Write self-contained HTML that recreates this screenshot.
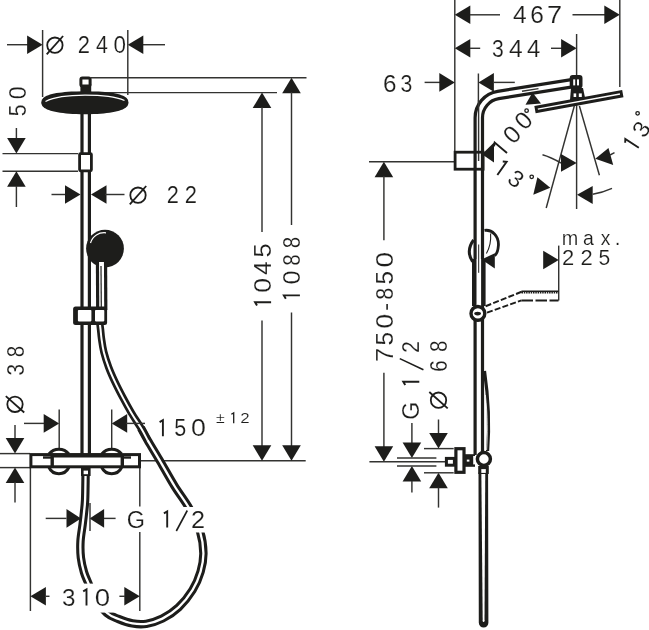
<!DOCTYPE html>
<html><head><meta charset="utf-8"><title>Dimension drawing</title>
<style>
html,body{margin:0;padding:0;background:#fff;}
svg{display:block;will-change:transform;}
text{font-family:"Liberation Sans",sans-serif;fill:#1d1d1b;}
</style></head>
<body>
<svg width="649" height="630" viewBox="0 0 649 630">
<rect width="649" height="630" fill="#fff"/>
<line x1="141" y1="460.8" x2="305.7" y2="460.8" stroke="#333331" stroke-width="1.45" />
<path d="M 141.0,428.1 C 142.1,430.1 144.4,434.6 147.5,440.0 C 150.6,445.4 155.3,452.9 159.8,460.6 C 164.3,468.3 169.5,477.9 174.5,486.0 C 179.5,494.1 185.3,501.3 189.6,509.0 C 193.9,516.7 197.9,524.6 200.2,532.0 C 202.5,539.4 203.3,546.5 203.4,553.1 C 203.5,559.7 202.4,565.4 200.6,571.6 C 198.8,577.8 196.2,584.1 192.5,590.1 C 188.8,596.1 183.6,602.6 178.6,607.4 C 173.6,612.1 167.8,615.9 162.4,618.6 C 157.0,621.3 151.3,623.0 146.3,623.8 C 141.3,624.6 137.0,624.2 132.4,623.4 C 127.8,622.6 122.7,620.7 118.5,619.0 C 114.3,617.3 110.9,616.5 107.0,613.0 C 103.1,609.5 98.2,603.1 95.0,598.0 C 91.8,592.9 89.9,586.8 88.1,582.5 C 86.3,578.2 85.2,576.3 84.0,572.2 C 82.8,568.1 81.5,562.9 80.9,557.7 C 80.3,552.5 80.2,546.7 80.5,541.2 C 80.8,535.7 82.0,529.5 82.6,524.7 C 83.2,519.9 83.6,516.5 84.0,512.4 C 84.4,508.3 84.8,506.4 85.1,500.0 C 85.4,493.6 85.5,478.3 85.6,474.0" fill="none" stroke="#1d1d1b" stroke-width="8.4" stroke-linecap="butt" stroke-linejoin="round" />
<path d="M 141.0,428.1 C 142.1,430.1 144.4,434.6 147.5,440.0 C 150.6,445.4 155.3,452.9 159.8,460.6 C 164.3,468.3 169.5,477.9 174.5,486.0 C 179.5,494.1 185.3,501.3 189.6,509.0 C 193.9,516.7 197.9,524.6 200.2,532.0 C 202.5,539.4 203.3,546.5 203.4,553.1 C 203.5,559.7 202.4,565.4 200.6,571.6 C 198.8,577.8 196.2,584.1 192.5,590.1 C 188.8,596.1 183.6,602.6 178.6,607.4 C 173.6,612.1 167.8,615.9 162.4,618.6 C 157.0,621.3 151.3,623.0 146.3,623.8 C 141.3,624.6 137.0,624.2 132.4,623.4 C 127.8,622.6 122.7,620.7 118.5,619.0 C 114.3,617.3 110.9,616.5 107.0,613.0 C 103.1,609.5 98.2,603.1 95.0,598.0 C 91.8,592.9 89.9,586.8 88.1,582.5 C 86.3,578.2 85.2,576.3 84.0,572.2 C 82.8,568.1 81.5,562.9 80.9,557.7 C 80.3,552.5 80.2,546.7 80.5,541.2 C 80.8,535.7 82.0,529.5 82.6,524.7 C 83.2,519.9 83.6,516.5 84.0,512.4 C 84.4,508.3 84.8,506.4 85.1,500.0 C 85.4,493.6 85.5,478.3 85.6,474.0" fill="none" stroke="#fff" stroke-width="2.3" stroke-linecap="butt" stroke-linejoin="round" />
<path d="M 99.6,322.0 C 99.8,323.3 100.3,327.2 100.6,330.0 C 100.9,332.8 101.0,335.0 101.5,338.6 C 102.0,342.2 102.6,347.1 103.8,351.9 C 105.0,356.6 106.7,362.0 108.6,367.1 C 110.5,372.2 112.8,377.3 115.2,382.4 C 117.6,387.5 120.2,392.5 122.9,397.6 C 125.6,402.7 128.4,407.8 131.4,412.9 C 134.4,418.0 138.3,423.6 141.0,428.1 C 143.7,432.6 146.4,438.0 147.5,440.0" fill="none" stroke="#1d1d1b" stroke-width="7.4" stroke-linecap="butt" stroke-linejoin="round" />
<path d="M 99.6,322.0 C 99.8,323.3 100.3,327.2 100.6,330.0 C 100.9,332.8 101.0,335.0 101.5,338.6 C 102.0,342.2 102.6,347.1 103.8,351.9 C 105.0,356.6 106.7,362.0 108.6,367.1 C 110.5,372.2 112.8,377.3 115.2,382.4 C 117.6,387.5 120.2,392.5 122.9,397.6 C 125.6,402.7 128.4,407.8 131.4,412.9 C 134.4,418.0 138.3,423.6 141.0,428.1 C 143.7,432.6 146.4,438.0 147.5,440.0" fill="none" stroke="#fff" stroke-width="2.0" stroke-linecap="butt" stroke-linejoin="round" />
<rect x="56" y="583.6" width="62" height="29" fill="#fff"/>
<rect x="120" y="507" width="90" height="25.5" fill="#fff"/>
<line x1="7" y1="44.7" x2="28" y2="44.7" stroke="#333331" stroke-width="1.45" />
<polygon points="42.6,44.7 27.1,35.4 27.1,54.0" fill="#1d1d1b"/>
<line x1="143" y1="44.7" x2="165" y2="44.7" stroke="#333331" stroke-width="1.45" />
<polygon points="127.8,44.7 143.3,35.4 143.3,54.0" fill="#1d1d1b"/>
<line x1="42.6" y1="30" x2="42.6" y2="97" stroke="#333331" stroke-width="1.45" />
<line x1="127.8" y1="30" x2="127.8" y2="95" stroke="#333331" stroke-width="1.45" />
<g transform="translate(54.9,45.2) rotate(0)"><circle r="7.7" fill="none" stroke="#1d1d1b" stroke-width="1.8"/><line x1="-8.2" y1="9.2" x2="8.2" y2="-9.2" stroke="#1d1d1b" stroke-width="1.8"/></g>
<text transform="translate(83.90,53.30) rotate(0) scale(0.934,1)" x="-6.53" y="0" font-size="23.5" stroke="#fff" stroke-width="0.15">2</text>
<text transform="translate(102.00,53.30) rotate(0) scale(0.912,1)" x="-6.46" y="0" font-size="23.5" stroke="#fff" stroke-width="0.15">4</text>
<text transform="translate(119.75,53.30) rotate(0) scale(0.952,1)" x="-6.53" y="0" font-size="23.5" stroke="#fff" stroke-width="0.15">0</text>
<line x1="91" y1="77.7" x2="306.5" y2="77.7" stroke="#333331" stroke-width="1.45" />
<line x1="96" y1="92.6" x2="277" y2="92.6" stroke="#333331" stroke-width="1.45" />
<polygon points="262.0,92.6 252.7,108.1 271.3,108.1" fill="#1d1d1b"/>
<polygon points="291.5,77.7 282.2,93.2 300.8,93.2" fill="#1d1d1b"/>
<line x1="262" y1="107" x2="262" y2="232" stroke="#333331" stroke-width="1.45" />
<line x1="262" y1="320.5" x2="262" y2="446" stroke="#333331" stroke-width="1.45" />
<line x1="291.5" y1="92" x2="291.5" y2="225" stroke="#333331" stroke-width="1.45" />
<line x1="291.5" y1="312.5" x2="291.5" y2="446" stroke="#333331" stroke-width="1.45" />
<polygon points="262.0,460.8 252.7,445.3 271.3,445.3" fill="#1d1d1b"/>
<polygon points="291.5,460.8 282.2,445.3 300.8,445.3" fill="#1d1d1b"/>
<text transform="translate(271.10,250.60) rotate(-90) scale(1.077,1)" x="-6.51" y="0" font-size="23.5" stroke="#fff" stroke-width="0.15">5</text>
<text transform="translate(271.10,268.10) rotate(-90) scale(1.013,1)" x="-6.46" y="0" font-size="23.5" stroke="#fff" stroke-width="0.15">4</text>
<text transform="translate(271.10,285.25) rotate(-90) scale(1.131,1)" x="-6.53" y="0" font-size="23.5" stroke="#fff" stroke-width="0.15">0</text>
<path transform="translate(271.10,302.30) rotate(-90)" d="M -3.3,-14.07 L 0,-16.05 L 0,0" fill="none" stroke="#1d1d1b" stroke-width="1.9" stroke-linejoin="miter"/>
<text transform="translate(299.90,242.45) rotate(-90) scale(0.880,1)" x="-6.53" y="0" font-size="23.5" stroke="#fff" stroke-width="0.15">8</text>
<text transform="translate(299.90,260.05) rotate(-90) scale(0.880,1)" x="-6.53" y="0" font-size="23.5" stroke="#fff" stroke-width="0.15">8</text>
<text transform="translate(299.90,277.55) rotate(-90) scale(1.077,1)" x="-6.53" y="0" font-size="23.5" stroke="#fff" stroke-width="0.15">0</text>
<path transform="translate(299.90,295.40) rotate(-90)" d="M -3.3,-14.07 L 0,-16.05 L 0,0" fill="none" stroke="#1d1d1b" stroke-width="1.9" stroke-linejoin="miter"/>
<line x1="16.4" y1="128" x2="16.4" y2="139" stroke="#333331" stroke-width="1.45" />
<polygon points="16.4,153.6 7.1,138.1 25.7,138.1" fill="#1d1d1b"/>
<line x1="2.5" y1="153.6" x2="78" y2="153.6" stroke="#333331" stroke-width="1.45" />
<line x1="2.5" y1="171.2" x2="78" y2="171.2" stroke="#333331" stroke-width="1.45" />
<polygon points="16.4,171.2 7.1,186.7 25.7,186.7" fill="#1d1d1b"/>
<line x1="16.4" y1="186" x2="16.4" y2="207" stroke="#333331" stroke-width="1.45" />
<text transform="translate(25.70,92.70) rotate(-90) scale(0.997,1)" x="-6.53" y="0" font-size="23.5" stroke="#fff" stroke-width="0.15">0</text>
<text transform="translate(25.70,110.45) rotate(-90) scale(0.906,1)" x="-6.51" y="0" font-size="23.5" stroke="#fff" stroke-width="0.15">5</text>
<line x1="51.5" y1="194.5" x2="66" y2="194.5" stroke="#333331" stroke-width="1.45" />
<polygon points="80.5,194.5 65.0,185.2 65.0,203.8" fill="#1d1d1b"/>
<polygon points="91.0,194.5 106.5,185.2 106.5,203.8" fill="#1d1d1b"/>
<line x1="105" y1="194.5" x2="124.5" y2="194.5" stroke="#333331" stroke-width="1.45" />
<g transform="translate(138,195.2) rotate(0)"><circle r="7.7" fill="none" stroke="#1d1d1b" stroke-width="1.8"/><line x1="-8.2" y1="9.2" x2="8.2" y2="-9.2" stroke="#1d1d1b" stroke-width="1.8"/></g>
<text transform="translate(172.85,203.20) rotate(0) scale(0.925,1)" x="-6.53" y="0" font-size="23.5" stroke="#fff" stroke-width="0.15">2</text>
<text transform="translate(190.90,203.20) rotate(0) scale(0.934,1)" x="-6.53" y="0" font-size="23.5" stroke="#fff" stroke-width="0.15">2</text>
<line x1="15" y1="425" x2="15" y2="440" stroke="#333331" stroke-width="1.45" />
<polygon points="15.0,453.6 5.7,438.1 24.3,438.1" fill="#1d1d1b"/>
<line x1="0" y1="453.6" x2="30" y2="453.6" stroke="#333331" stroke-width="1.45" />
<line x1="0" y1="467.6" x2="30" y2="467.6" stroke="#333331" stroke-width="1.45" />
<polygon points="15.0,467.6 5.7,483.1 24.3,483.1" fill="#1d1d1b"/>
<line x1="15" y1="482" x2="15" y2="502.5" stroke="#333331" stroke-width="1.45" />
<g transform="translate(15,404.3) rotate(-90)"><circle r="7.7" fill="none" stroke="#1d1d1b" stroke-width="1.8"/><line x1="-8.2" y1="9.2" x2="8.2" y2="-9.2" stroke="#1d1d1b" stroke-width="1.8"/></g>
<text transform="translate(23.60,351.50) rotate(-90) scale(0.880,1)" x="-6.53" y="0" font-size="23.5" stroke="#fff" stroke-width="0.15">8</text>
<text transform="translate(23.60,369.80) rotate(-90) scale(0.880,1)" x="-6.47" y="0" font-size="23.5" stroke="#fff" stroke-width="0.15">3</text>
<line x1="24" y1="423.4" x2="44" y2="423.4" stroke="#333331" stroke-width="1.45" />
<polygon points="59.2,423.4 43.7,414.1 43.7,432.7" fill="#1d1d1b"/>
<polygon points="111.7,423.4 127.2,414.1 127.2,432.7" fill="#1d1d1b"/>
<line x1="126" y1="423.4" x2="145" y2="423.4" stroke="#333331" stroke-width="1.45" />
<line x1="59.2" y1="409.5" x2="59.2" y2="452" stroke="#333331" stroke-width="1.45" />
<line x1="111.7" y1="409.5" x2="111.7" y2="452" stroke="#333331" stroke-width="1.45" />
<path transform="translate(162.90,436.20) rotate(0)" d="M -3.3,-14.07 L 0,-16.05 L 0,0" fill="none" stroke="#1d1d1b" stroke-width="1.9" stroke-linejoin="miter"/>
<text transform="translate(180.10,436.20) rotate(0) scale(0.915,1)" x="-6.51" y="0" font-size="23.5" stroke="#fff" stroke-width="0.15">5</text>
<text transform="translate(198.30,436.20) rotate(0) scale(1.139,1)" x="-6.53" y="0" font-size="23.5" stroke="#fff" stroke-width="0.15">0</text>
<text transform="translate(220.35,423.30) rotate(0) scale(1.023,1)" x="-4.26" y="0" font-size="15.5" stroke="#fff" stroke-width="0.15">±</text>
<text transform="translate(244.95,423.30) rotate(0) scale(1.090,1)" x="-4.31" y="0" font-size="15.5" stroke="#fff" stroke-width="0.15">2</text>
<path transform="translate(233.70,423.30) rotate(0)" d="M -2.4,-9.07 L 0,-10.40 L 0,0" fill="none" stroke="#1d1d1b" stroke-width="1.3" stroke-linejoin="miter"/>
<line x1="45.7" y1="518.4" x2="66.5" y2="518.4" stroke="#333331" stroke-width="1.45" />
<polygon points="81.0,518.4 66.5,509.1 66.5,527.7" fill="#1d1d1b"/>
<polygon points="89.6,518.4 104.1,509.1 104.1,527.7" fill="#1d1d1b"/>
<line x1="104" y1="518.4" x2="115.6" y2="518.4" stroke="#333331" stroke-width="1.45" />
<line x1="90" y1="503" x2="90" y2="531" stroke="#333331" stroke-width="1.45" />
<text transform="translate(135.55,527.50) rotate(0) scale(0.997,1)" x="-8.85" y="0" font-size="23.5" stroke="#fff" stroke-width="0.15">G</text>
<path transform="translate(167.20,527.50) rotate(0)" d="M -3.3,-14.07 L 0,-16.05 L 0,0" fill="none" stroke="#1d1d1b" stroke-width="1.9" stroke-linejoin="miter"/>
<text transform="translate(198.05,527.50) rotate(0) scale(1.074,1)" x="-6.53" y="0" font-size="23.5" stroke="#fff" stroke-width="0.15">2</text>
<line x1="176.3" y1="531" x2="187.3" y2="510.5" stroke="#1d1d1b" stroke-width="1.6" />
<line x1="30.4" y1="468" x2="30.4" y2="611" stroke="#333331" stroke-width="1.45" />
<line x1="139.8" y1="468" x2="139.8" y2="506.5" stroke="#333331" stroke-width="1.45" />
<line x1="139.8" y1="532" x2="139.8" y2="611" stroke="#333331" stroke-width="1.45" />
<polygon points="30.4,596.3 45.9,587.0 45.9,605.6" fill="#1d1d1b"/>
<line x1="46" y1="596.3" x2="49.5" y2="596.3" stroke="#333331" stroke-width="1.45" />
<polygon points="139.8,596.3 124.3,587.0 124.3,605.6" fill="#1d1d1b"/>
<line x1="119.4" y1="596.3" x2="125" y2="596.3" stroke="#333331" stroke-width="1.45" />
<text transform="translate(68.65,605.50) rotate(0) scale(1.032,1)" x="-6.47" y="0" font-size="23.5" stroke="#fff" stroke-width="0.15">3</text>
<path transform="translate(86.50,605.50) rotate(0)" d="M -3.3,-14.07 L 0,-16.05 L 0,0" fill="none" stroke="#1d1d1b" stroke-width="1.9" stroke-linejoin="miter"/>
<text transform="translate(102.30,605.50) rotate(0) scale(1.175,1)" x="-6.53" y="0" font-size="23.5" stroke="#fff" stroke-width="0.15">0</text>
<path d="M 85.7,108 L 85.7,455" fill="none" stroke="#1d1d1b" stroke-width="10.6" stroke-linecap="butt" stroke-linejoin="round" />
<path d="M 85.7,108 L 85.7,455" fill="none" stroke="#fff" stroke-width="4.2" stroke-linecap="butt" stroke-linejoin="round" />
<rect x="79.6" y="153.6" width="11.8" height="17.2" rx="1" fill="#fff" stroke="#1d1d1b" stroke-width="2.8"/>
<polygon points="128.3,102.3 128.2,103.4 127.8,104.3 127.2,105.2 126.4,106.0 125.3,106.9 124.0,107.6 122.4,108.3 120.7,109.0 118.7,109.7 116.6,110.3 114.2,110.8 111.7,111.3 109.0,111.7 106.1,112.1 103.0,112.4 99.8,112.7 96.5,112.9 92.9,113.1 89.2,113.2 84.9,113.2 80.6,113.2 76.9,113.1 73.3,112.9 70.0,112.7 66.8,112.4 63.7,112.1 60.8,111.7 58.1,111.3 55.6,110.8 53.2,110.3 51.1,109.7 49.1,109.0 47.4,108.3 45.8,107.6 44.5,106.9 43.4,106.0 42.6,105.2 42.0,104.3 41.6,103.4 41.5,102.3 41.6,100.9 41.9,99.8 42.5,98.9 43.2,98.0 44.2,97.2 45.3,96.5 46.7,95.8 48.3,95.2 50.0,94.6 52.0,94.0 54.2,93.5 56.5,93.1 59.1,92.7 61.8,92.4 64.8,92.1 67.9,91.8 71.3,91.6 75.1,91.5 79.2,91.4 84.9,91.4 90.6,91.4 94.7,91.5 98.5,91.6 101.9,91.8 105.0,92.1 108.0,92.4 110.7,92.7 113.3,93.1 115.6,93.5 117.8,94.0 119.8,94.6 121.5,95.2 123.1,95.8 124.5,96.5 125.6,97.2 126.6,98.0 127.3,98.9 127.9,99.8 128.2,100.9" fill="#1d1d1b"/>
<polygon points="128.3,103.0 128.2,104.2 127.8,105.2 127.3,106.2 126.4,107.0 125.4,107.9 124.2,108.6 122.7,109.4 121.0,110.1 119.1,110.7 117.0,111.3 114.7,111.8 112.2,112.3 109.6,112.8 106.7,113.1 103.7,113.5 100.5,113.7 97.1,113.9 93.5,114.1 89.6,114.2 84.9,114.2 80.2,114.2 76.3,114.1 72.7,113.9 69.3,113.7 66.1,113.5 63.1,113.1 60.2,112.8 57.6,112.3 55.1,111.8 52.8,111.3 50.7,110.7 48.8,110.1 47.1,109.4 45.6,108.6 44.4,107.9 43.4,107.0 42.5,106.2 42.0,105.2 41.6,104.2 41.5,103.0 41.6,101.9 42.0,100.9 42.6,100.0 43.4,99.1 44.5,98.3 45.8,97.5 47.4,96.8 49.1,96.1 51.1,95.4 53.2,94.8 55.6,94.3 58.1,93.8 60.8,93.3 63.7,92.9 66.8,92.6 70.0,92.3 73.3,92.1 76.9,91.9 80.6,91.8 84.9,91.8 89.2,91.8 92.9,91.9 96.5,92.1 99.8,92.3 103.0,92.6 106.1,92.9 109.0,93.3 111.7,93.8 114.2,94.3 116.6,94.8 118.7,95.4 120.7,96.1 122.4,96.8 124.0,97.5 125.3,98.3 126.4,99.1 127.2,100.0 127.8,100.9 128.2,101.9" fill="#1d1d1b"/>
<path d="M 45.5,101.5 C 55,96.8 70,95.2 85,95.2 C 100,95.2 115,96.5 124.5,100.5" fill="none" stroke="#fff" stroke-width="1.3" stroke-linecap="butt" stroke-linejoin="round" />
<rect x="80.4" y="84" width="10.8" height="10" fill="#1d1d1b"/>
<rect x="80.9" y="78" width="9.2" height="8" rx="1.5" fill="#fff" stroke="#1d1d1b" stroke-width="3"/>
<circle cx="105" cy="248.6" r="18.9" fill="#1d1d1b"/>
<path d="M 90.5,243 C 92.5,236 99,232 106,232.8" fill="none" stroke="#fff" stroke-width="1.2" stroke-linecap="butt" stroke-linejoin="round" />
<path d="M 101.5,262 L 101.75,310" fill="none" stroke="#1d1d1b" stroke-width="11.3" stroke-linecap="butt" stroke-linejoin="round" />
<path d="M 101.5,262 L 101.75,310" fill="none" stroke="#fff" stroke-width="4.9" stroke-linecap="butt" stroke-linejoin="round" />
<line x1="101.0" y1="266" x2="101.3" y2="308" stroke="#1d1d1b" stroke-width="1.2" />
<rect x="73.1" y="306.4" width="34" height="18.6" rx="2.5" fill="#1d1d1b" stroke="none" stroke-width="0"/>
<rect x="77.9" y="310" width="13.5" height="11.4" rx="0.8" fill="#fff"/>
<rect x="95" y="310" width="9.3" height="11.4" rx="0.8" fill="#fff"/>
<path d="M 49.0,454 A 12.5 12.5 0 0 1 68.8,454" fill="#fff" stroke="#1d1d1b" stroke-width="3" stroke-linecap="butt" stroke-linejoin="round" />
<path d="M 49.0,467.5 A 11 11 0 0 0 68.8,467.5" fill="#fff" stroke="#1d1d1b" stroke-width="3" stroke-linecap="butt" stroke-linejoin="round" />
<path d="M 101.8,454 A 12.5 12.5 0 0 1 121.60000000000001,454" fill="#fff" stroke="#1d1d1b" stroke-width="3" stroke-linecap="butt" stroke-linejoin="round" />
<path d="M 101.8,467.5 A 11 11 0 0 0 121.60000000000001,467.5" fill="#fff" stroke="#1d1d1b" stroke-width="3" stroke-linecap="butt" stroke-linejoin="round" />
<rect x="30.9" y="454.6" width="108.6" height="12.2" rx="0" fill="#fff" stroke="#1d1d1b" stroke-width="3"/>
<line x1="52.2" y1="454.6" x2="52.2" y2="467" stroke="#1d1d1b" stroke-width="3.4" />
<line x1="122.3" y1="454.6" x2="122.3" y2="467" stroke="#1d1d1b" stroke-width="3.4" />
<line x1="43" y1="457.5" x2="52" y2="457.5" stroke="#1d1d1b" stroke-width="2.4" />
<line x1="122" y1="457.5" x2="131" y2="457.5" stroke="#1d1d1b" stroke-width="2.4" />
<line x1="52" y1="455.6" x2="122" y2="455.6" stroke="#1d1d1b" stroke-width="4" />
<rect x="81" y="466" width="9.6" height="10" fill="#1d1d1b"/>
<rect x="83.6" y="470.6" width="4.4" height="3.6" fill="#fff"/>
<line x1="454.8" y1="0" x2="454.8" y2="151" stroke="#333331" stroke-width="1.45" />
<polygon points="454.8,14.8 470.3,5.5 470.3,24.1" fill="#1d1d1b"/>
<line x1="470" y1="14.8" x2="500" y2="14.8" stroke="#333331" stroke-width="1.45" />
<line x1="572.5" y1="14.8" x2="605" y2="14.8" stroke="#333331" stroke-width="1.45" />
<polygon points="619.8,14.8 604.3,5.5 604.3,24.1" fill="#1d1d1b"/>
<line x1="619.8" y1="0" x2="619.8" y2="87" stroke="#333331" stroke-width="1.45" />
<text transform="translate(519.80,23.00) rotate(0) scale(1.047,1)" x="-6.46" y="0" font-size="23.5" stroke="#fff" stroke-width="0.15">4</text>
<text transform="translate(537.25,23.00) rotate(0) scale(1.042,1)" x="-6.62" y="0" font-size="23.5" stroke="#fff" stroke-width="0.15">6</text>
<text transform="translate(554.70,23.00) rotate(0) scale(1.161,1)" x="-6.55" y="0" font-size="23.5" stroke="#fff" stroke-width="0.15">7</text>
<polygon points="454.8,48.3 470.3,39.0 470.3,57.6" fill="#1d1d1b"/>
<line x1="470" y1="48.3" x2="480.2" y2="48.3" stroke="#333331" stroke-width="1.45" />
<line x1="551" y1="48.3" x2="562" y2="48.3" stroke="#333331" stroke-width="1.45" />
<polygon points="576.6,48.3 561.1,39.0 561.1,57.6" fill="#1d1d1b"/>
<line x1="576.6" y1="34" x2="576.6" y2="209" stroke="#333331" stroke-width="1.45" />
<text transform="translate(497.80,57.00) rotate(0) scale(0.898,1)" x="-6.47" y="0" font-size="23.5" stroke="#fff" stroke-width="0.15">3</text>
<text transform="translate(515.80,57.00) rotate(0) scale(1.047,1)" x="-6.46" y="0" font-size="23.5" stroke="#fff" stroke-width="0.15">4</text>
<text transform="translate(533.60,57.00) rotate(0) scale(1.013,1)" x="-6.46" y="0" font-size="23.5" stroke="#fff" stroke-width="0.15">4</text>
<line x1="424.6" y1="82.4" x2="440" y2="82.4" stroke="#333331" stroke-width="1.45" />
<polygon points="454.8,82.4 439.3,73.1 439.3,91.7" fill="#1d1d1b"/>
<polygon points="478.4,82.4 493.9,73.1 493.9,91.7" fill="#1d1d1b"/>
<line x1="494" y1="82.4" x2="514.8" y2="82.4" stroke="#333331" stroke-width="1.45" />
<line x1="478.4" y1="73.5" x2="478.4" y2="161" stroke="#333331" stroke-width="1.45" />
<text transform="translate(389.80,92.00) rotate(0) scale(1.033,1)" x="-6.62" y="0" font-size="23.5" stroke="#fff" stroke-width="0.15">6</text>
<text transform="translate(406.45,92.00) rotate(0) scale(0.906,1)" x="-6.47" y="0" font-size="23.5" stroke="#fff" stroke-width="0.15">3</text>
<line x1="369" y1="161.7" x2="454" y2="161.7" stroke="#333331" stroke-width="1.45" />
<polygon points="383.9,161.7 374.6,177.2 393.2,177.2" fill="#1d1d1b"/>
<line x1="383.9" y1="176" x2="383.9" y2="240.2" stroke="#333331" stroke-width="1.45" />
<line x1="383.9" y1="372.7" x2="383.9" y2="447" stroke="#333331" stroke-width="1.45" />
<polygon points="383.9,461.7 374.6,446.2 393.2,446.2" fill="#1d1d1b"/>
<line x1="369.4" y1="461.7" x2="445" y2="461.7" stroke="#333331" stroke-width="1.45" />
<text transform="translate(392.50,259.75) rotate(-90) scale(1.200,1)" x="-6.53" y="0" font-size="23.5" stroke="#fff" stroke-width="0.15">0</text>
<text transform="translate(392.50,277.85) rotate(-90) scale(1.032,1)" x="-6.51" y="0" font-size="23.5" stroke="#fff" stroke-width="0.15">5</text>
<text transform="translate(392.50,293.85) rotate(-90) scale(0.916,1)" x="-6.53" y="0" font-size="23.5" stroke="#fff" stroke-width="0.15">8</text>
<text transform="translate(392.50,306.90) rotate(-90) scale(1.000,1)" x="-3.91" y="0" font-size="23.5" stroke="#fff" stroke-width="0.15">-</text>
<text transform="translate(392.50,321.20) rotate(-90) scale(1.122,1)" x="-6.53" y="0" font-size="23.5" stroke="#fff" stroke-width="0.15">0</text>
<text transform="translate(392.50,338.80) rotate(-90) scale(1.041,1)" x="-6.51" y="0" font-size="23.5" stroke="#fff" stroke-width="0.15">5</text>
<text transform="translate(392.50,355.00) rotate(-90) scale(1.086,1)" x="-6.55" y="0" font-size="23.5" stroke="#fff" stroke-width="0.15">7</text>
<line x1="411.9" y1="423" x2="411.9" y2="443" stroke="#333331" stroke-width="1.45" />
<polygon points="411.9,457.9 402.6,442.4 421.2,442.4" fill="#1d1d1b"/>
<polygon points="411.9,466.0 402.6,481.5 421.2,481.5" fill="#1d1d1b"/>
<line x1="411.9" y1="481" x2="411.9" y2="492.5" stroke="#333331" stroke-width="1.45" />
<line x1="397" y1="457.9" x2="436.4" y2="457.9" stroke="#333331" stroke-width="1.45" />
<line x1="397" y1="466" x2="436.4" y2="466" stroke="#333331" stroke-width="1.45" />
<text transform="translate(419.30,410.95) rotate(-90) scale(0.984,1)" x="-8.85" y="0" font-size="23.5" stroke="#fff" stroke-width="0.15">G</text>
<path transform="translate(419.30,381.70) rotate(-90)" d="M -3.3,-14.07 L 0,-16.05 L 0,0" fill="none" stroke="#1d1d1b" stroke-width="1.9" stroke-linejoin="miter"/>
<text transform="translate(419.30,347.10) rotate(-90) scale(0.880,1)" x="-6.53" y="0" font-size="23.5" stroke="#fff" stroke-width="0.15">2</text>
<line x1="399.8" y1="358.6" x2="423.4" y2="369.8" stroke="#1d1d1b" stroke-width="1.6" />
<line x1="438.5" y1="419.5" x2="438.5" y2="434" stroke="#333331" stroke-width="1.45" />
<polygon points="438.5,448.6 429.2,433.1 447.8,433.1" fill="#1d1d1b"/>
<polygon points="438.5,472.8 429.2,488.3 447.8,488.3" fill="#1d1d1b"/>
<line x1="438.5" y1="487.5" x2="438.5" y2="507.6" stroke="#333331" stroke-width="1.45" />
<line x1="424" y1="448.6" x2="453.7" y2="448.6" stroke="#333331" stroke-width="1.45" />
<line x1="424" y1="472.8" x2="453.7" y2="472.8" stroke="#333331" stroke-width="1.45" />
<g transform="translate(438.5,400.2) rotate(-90)"><circle r="7.7" fill="none" stroke="#1d1d1b" stroke-width="1.8"/><line x1="-8.2" y1="9.2" x2="8.2" y2="-9.2" stroke="#1d1d1b" stroke-width="1.8"/></g>
<text transform="translate(447.20,366.00) rotate(-90) scale(0.880,1)" x="-6.62" y="0" font-size="23.5" stroke="#fff" stroke-width="0.15">6</text>
<text transform="translate(447.20,346.20) rotate(-90) scale(0.880,1)" x="-6.53" y="0" font-size="23.5" stroke="#fff" stroke-width="0.15">8</text>
<line x1="574.3" y1="106" x2="546.2" y2="208" stroke="#333331" stroke-width="1.45" />
<line x1="579.4" y1="106" x2="599.4" y2="175.2" stroke="#333331" stroke-width="1.45" />
<polygon points="576.7,163.0 561.0,154.0 561.0,171.8" fill="#1d1d1b"/>
<path d="M 542.5,154.7 C 549,156.5 555,159.5 561,163" fill="none" stroke="#333331" stroke-width="1.45" stroke-linecap="butt" stroke-linejoin="round" />
<polygon points="550.3,187.8 537.4,177.3 533.3,194.7" fill="#1d1d1b"/>
<polygon points="577.0,194.7 592.7,186.0 592.7,204.0" fill="#1d1d1b"/>
<path d="M 592.7,194.2 C 600,193 606,191 612,188.3" fill="none" stroke="#333331" stroke-width="1.45" stroke-linecap="butt" stroke-linejoin="round" />
<polygon points="595.3,158.8 608.5,148.0 613.2,165.0" fill="#1d1d1b"/>
<path d="M 610,155 L 614.5,152.7" fill="none" stroke="#333331" stroke-width="1.45" stroke-linecap="butt" stroke-linejoin="round" />
<polygon points="532.5,92.6 525.5,104.8 541.0,103.6" fill="#1d1d1b"/>
<polygon points="482.0,154.3 494.0,142.5 494.0,162.5" fill="#1d1d1b"/>
<path transform="translate(500.70,147.60) rotate(-50)" d="M -3.3,-5.87 L 0,-7.85 L 0,8.25" fill="none" stroke="#1d1d1b" stroke-width="1.9" stroke-linejoin="miter"/>
<text transform="translate(511.95,134.30) rotate(-47) scale(1.0,1)" x="-6.84" y="8.55" font-size="24.6" stroke="#fff" stroke-width="0.15">0</text>
<text transform="translate(523.40,120.50) rotate(-47) scale(1.0,1)" x="-6.84" y="8.55" font-size="24.6" stroke="#fff" stroke-width="0.15">0</text>
<circle cx="526.6" cy="110.7" r="1.75" fill="none" stroke="#1d1d1b" stroke-width="1.3"/>
<path transform="translate(502.10,168.20) rotate(35)" d="M -3.3,-5.87 L 0,-7.85 L 0,8.25" fill="none" stroke="#1d1d1b" stroke-width="1.9" stroke-linejoin="miter"/>
<text transform="translate(516.00,178.70) rotate(36) scale(1.0,1)" x="-6.47" y="8.25" font-size="23.5" stroke="#fff" stroke-width="0.15">3</text>
<circle cx="531.7" cy="176.8" r="1.75" fill="none" stroke="#1d1d1b" stroke-width="1.3"/>
<path transform="translate(631.90,143.20) rotate(-57)" d="M -3.3,-5.87 L 0,-7.85 L 0,8.25" fill="none" stroke="#1d1d1b" stroke-width="1.9" stroke-linejoin="miter"/>
<text transform="translate(641.00,129.00) rotate(-57) scale(1.0,1)" x="-6.47" y="8.25" font-size="23.5" stroke="#fff" stroke-width="0.15">3</text>
<circle cx="637.6" cy="113.3" r="1.75" fill="none" stroke="#1d1d1b" stroke-width="1.3"/>
<polygon points="558.7,260.0 543.2,250.7 543.2,269.3" fill="#1d1d1b"/>
<line x1="558.7" y1="245.6" x2="558.7" y2="300.5" stroke="#333331" stroke-width="1.45" />
<text transform="translate(570.05,244.50) rotate(0) scale(0.968,1)" x="-8.54" y="0" font-size="20.5" stroke="#fff" stroke-width="0.15">m</text>
<text transform="translate(588.90,244.50) rotate(0) scale(0.950,1)" x="-6.14" y="0" font-size="20.5" stroke="#fff" stroke-width="0.15">a</text>
<text transform="translate(605.50,244.50) rotate(0) scale(0.939,1)" x="-5.13" y="0" font-size="20.5" stroke="#fff" stroke-width="0.15">x</text>
<text transform="translate(617.70,244.50) rotate(0) scale(1.000,1)" x="-2.85" y="0" font-size="20.5" stroke="#fff" stroke-width="0.15">.</text>
<text transform="translate(568.10,265.20) rotate(0) scale(0.971,1)" x="-6.28" y="0" font-size="22.6" stroke="#fff" stroke-width="0.15">2</text>
<text transform="translate(586.60,265.20) rotate(0) scale(0.971,1)" x="-6.28" y="0" font-size="22.6" stroke="#fff" stroke-width="0.15">2</text>
<text transform="translate(604.30,265.20) rotate(0) scale(0.933,1)" x="-6.26" y="0" font-size="22.6" stroke="#fff" stroke-width="0.15">5</text>
<path d="M 485.6,306.2 L 522,291.6" fill="none" stroke="#1d1d1b" stroke-width="2" stroke-linecap="butt" stroke-linejoin="round" stroke-dasharray="6 2.2"/>
<path d="M 487,312.6 L 521.5,300.4" fill="none" stroke="#1d1d1b" stroke-width="2" stroke-linecap="butt" stroke-linejoin="round" stroke-dasharray="6 2.2"/>
<path d="M 521.5,300.4 L 558.5,300.4" fill="none" stroke="#1d1d1b" stroke-width="2" stroke-linecap="butt" stroke-linejoin="round" stroke-dasharray="11.5 2.5"/>
<line x1="521.5" y1="292.3" x2="558.5" y2="292.3" stroke="#1d1d1b" stroke-width="2.4" stroke-dasharray="1.5 0.8"/>
<line x1="521.5" y1="291.2" x2="558.5" y2="291.2" stroke="#1d1d1b" stroke-width="1.5" />
<path d="M 484.5,371 C 488,395 489.6,425 487.6,451" fill="none" stroke="#1d1d1b" stroke-width="3.2" stroke-linecap="butt" stroke-linejoin="round" />
<path d="M 485.4,395 C 487.6,415 487.6,435 486.6,450" fill="none" stroke="#fff" stroke-width="0.8" stroke-linecap="butt" stroke-linejoin="round" />
<path d="M 478.8,455 L 478.8,117.7 A 23 23 0 0 1 498.2,95.0 L 572,83.3" fill="none" stroke="#1d1d1b" stroke-width="10.6" stroke-linecap="butt" stroke-linejoin="round" />
<path d="M 478.8,455 L 478.8,117.7 A 23 23 0 0 1 498.2,95.0 L 572,83.3" fill="none" stroke="#fff" stroke-width="4.2" stroke-linecap="butt" stroke-linejoin="round" />
<line x1="478.6" y1="100" x2="478.6" y2="161" stroke="#333331" stroke-width="1.45" />
<line x1="522" y1="91.2" x2="538.5" y2="88.6" stroke="#333331" stroke-width="1.45" />
<path d="M 478.8,259 L 478.8,306" fill="none" stroke="#1d1d1b" stroke-width="13.6" stroke-linecap="butt" stroke-linejoin="round" />
<path d="M 478.8,259 L 478.8,306" fill="none" stroke="#fff" stroke-width="4.6" stroke-linecap="butt" stroke-linejoin="round" />
<rect x="455.1" y="152.2" width="28" height="17" rx="0" fill="none" stroke="#1d1d1b" stroke-width="2.8"/>
<rect x="571.2" y="76.6" width="9.8" height="10.4" rx="1.5" fill="#1d1d1b" stroke="#1d1d1b" stroke-width="3"/>
<rect x="573.2" y="79.4" width="2" height="6" fill="#fff"/><rect x="577" y="79.4" width="2" height="6" fill="#fff"/>
<polygon points="571,88 583,88 585.5,100 570,100" fill="#1d1d1b"/>
<rect x="573.6" y="93.4" width="2.6" height="3.6" fill="#fff"/><rect x="578.8" y="93.4" width="3" height="3.6" fill="#fff"/>
<g transform="translate(578.9,101.6) rotate(-10.4)"><rect x="-43.2" y="-2.2" width="86.4" height="4.4" fill="#fff" stroke="#1d1d1b" stroke-width="2.9"/></g>
<path d="M 473.6,240 C 468.4,247 468.2,255 472.6,261.8" fill="none" stroke="#1d1d1b" stroke-width="3.0" stroke-linecap="butt" stroke-linejoin="round" />
<path d="M 484.5,230.4 C 492,229.2 499,236 498.4,245.5 C 498,251 496.4,254.4 494.6,255.6" fill="none" stroke="#1d1d1b" stroke-width="2.8" stroke-linecap="butt" stroke-linejoin="round" />
<path d="M 490.6,233.5 C 491.2,242 489,249 486.4,253.5" fill="none" stroke="#1d1d1b" stroke-width="1.1" stroke-linecap="butt" stroke-linejoin="round" />
<polygon points="481.6,259.6 494.8,253.2 494.8,268.6" fill="#1d1d1b"/>
<line x1="478.7" y1="244.5" x2="478.7" y2="272.8" stroke="#1d1d1b" stroke-width="1.0" />
<circle cx="477.9" cy="313.4" r="6.9" fill="#fff" stroke="#1d1d1b" stroke-width="3.4"/>
<ellipse cx="477.6" cy="313.6" rx="3.4" ry="1.8" fill="#1d1d1b"/>
<rect x="446.4" y="458.4" width="8" height="6.8" rx="0" fill="#fff" stroke="#1d1d1b" stroke-width="3"/>
<rect x="455.9" y="448.7" width="8.1" height="23.6" rx="0" fill="#fff" stroke="#1d1d1b" stroke-width="3.2"/>
<rect x="465" y="454.2" width="10" height="12.6" fill="#1d1d1b"/>
<rect x="466.8" y="459.6" width="2.6" height="2" fill="#fff"/>
<rect x="473.2" y="456" width="3.6" height="8.4" fill="#fff"/>
<circle cx="483.9" cy="459" r="6.5" fill="#fff" stroke="#1d1d1b" stroke-width="3.5"/>
<path d="M 483.3,474 L 483.6,622.8" fill="none" stroke="#1d1d1b" stroke-width="9.6" stroke-linecap="round" stroke-linejoin="round" />
<polygon points="481.35,474 485.25,474 484.5,621 482.7,621" fill="#fff"/>
<circle cx="483.6" cy="621" r="0.9" fill="#fff"/>
<rect x="478.2" y="466" width="10.6" height="8" fill="#1d1d1b"/>
<rect x="481.3" y="469.1" width="4.5" height="3.8" fill="#fff"/>
</svg>
</body></html>
